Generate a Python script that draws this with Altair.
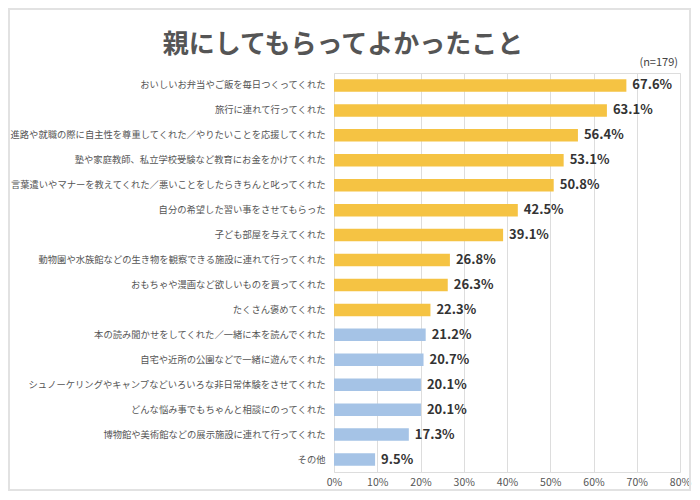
import altair as alt
import pandas as pd

categories = [
    "おいしいお弁当やご飯を毎日つくってくれた",
    "旅行に連れて行ってくれた",
    "進路や就職の際に自主性を尊重してくれた／やりたいことを応援してくれた",
    "塾や家庭教師、私立学校受験など教育にお金をかけてくれた",
    "言葉遣いやマナーを教えてくれた／悪いことをしたらきちんと叱ってくれた",
    "自分の希望した習い事をさせてもらった",
    "子ども部屋を与えてくれた",
    "動物園や水族館などの生き物を観察できる施設に連れて行ってくれた",
    "おもちゃや漫画など欲しいものを買ってくれた",
    "たくさん褒めてくれた",
    "本の読み聞かせをしてくれた／一緒に本を読んでくれた",
    "自宅や近所の公園などで一緒に遊んでくれた",
    "シュノーケリングやキャンプなどいろいろな非日常体験をさせてくれた",
    "どんな悩み事でもちゃんと相談にのってくれた",
    "博物館や美術館などの展示施設に連れて行ってくれた",
    "その他",
]
values = [67.6, 63.1, 56.4, 53.1, 50.8, 42.5, 39.1, 26.8, 26.3, 22.3,
          21.2, 20.7, 20.1, 20.1, 17.3, 9.5]
groups = ["top10"] * 10 + ["other"] * 6
x_ticks = [0, 10, 20, 30, 40, 50, 60, 70, 80]
title_text = "親にしてもらってよかったこと"
note_text = "(n=179)"

df = pd.DataFrame({"item": categories, "value": values, "group": groups})
df["label"] = [f"{v:.1f}%" for v in values]

FONT = "Noto Sans CJK JP"
W, H = 346, 399

base = alt.Chart(df).encode(
    y=alt.Y("item:N", sort=categories, title=None,
            scale=alt.Scale(paddingInner=0.5, paddingOuter=0.25),
            axis=alt.Axis(labelFont=FONT, labelFontSize=9.3, labelColor="#555555",
                          labelLimit=400, labelPadding=9, ticks=False, domain=False)),
)

bars = base.mark_bar().encode(
    x=alt.X("value:Q", title=None,
            scale=alt.Scale(domain=[0, 80], nice=False),
            axis=alt.Axis(values=x_ticks, labelExpr="datum.value + '%'",
                          labelFont=FONT, labelFontSize=10.5, labelColor="#555555",
                          labelPadding=5, labelFlush=False, ticks=False, domain=False,
                          gridColor="#DDDDDD", gridWidth=1)),
    color=alt.Color("group:N", legend=None,
                    scale=alt.Scale(domain=["top10", "other"],
                                    range=["#F5C343", "#A5C3E6"])),
)

labels = base.mark_text(align="left", baseline="middle", dx=6,
                        font=FONT, fontSize=13, fontWeight="bold",
                        color="#333333").encode(
    x=alt.X("value:Q"),
    text="label:N",
)

one = pd.DataFrame({"t": [title_text]})

border = alt.Chart(one).mark_rect(fill=None, stroke="#E2E2E2", strokeWidth=2).encode(
    x=alt.value(-325), x2=alt.value(356),
    y=alt.value(-64), y2=alt.value(417),
)

title = alt.Chart(one).mark_text(font=FONT, fontSize=26, fontWeight="bold",
                                 color="#555555", align="center",
                                 baseline="middle").encode(
    x=alt.value(9), y=alt.value(-28), text="t:N",
)

note = alt.Chart(pd.DataFrame({"t": [note_text]})).mark_text(
    font=FONT, fontSize=11, color="#444444", align="right",
    baseline="middle").encode(
    x=alt.value(344), y=alt.value(-10), text="t:N",
)

chart = alt.layer(border, bars, labels, title, note).properties(
    width=W, height=H,
    padding={"left": 326, "top": 65, "right": 12, "bottom": 20},
    autosize=alt.AutoSizeParams(type="none"),
).configure_view(stroke=None).configure(background="white")

chart.save("out.html", embed_options={"renderer": "svg", "actions": False})
